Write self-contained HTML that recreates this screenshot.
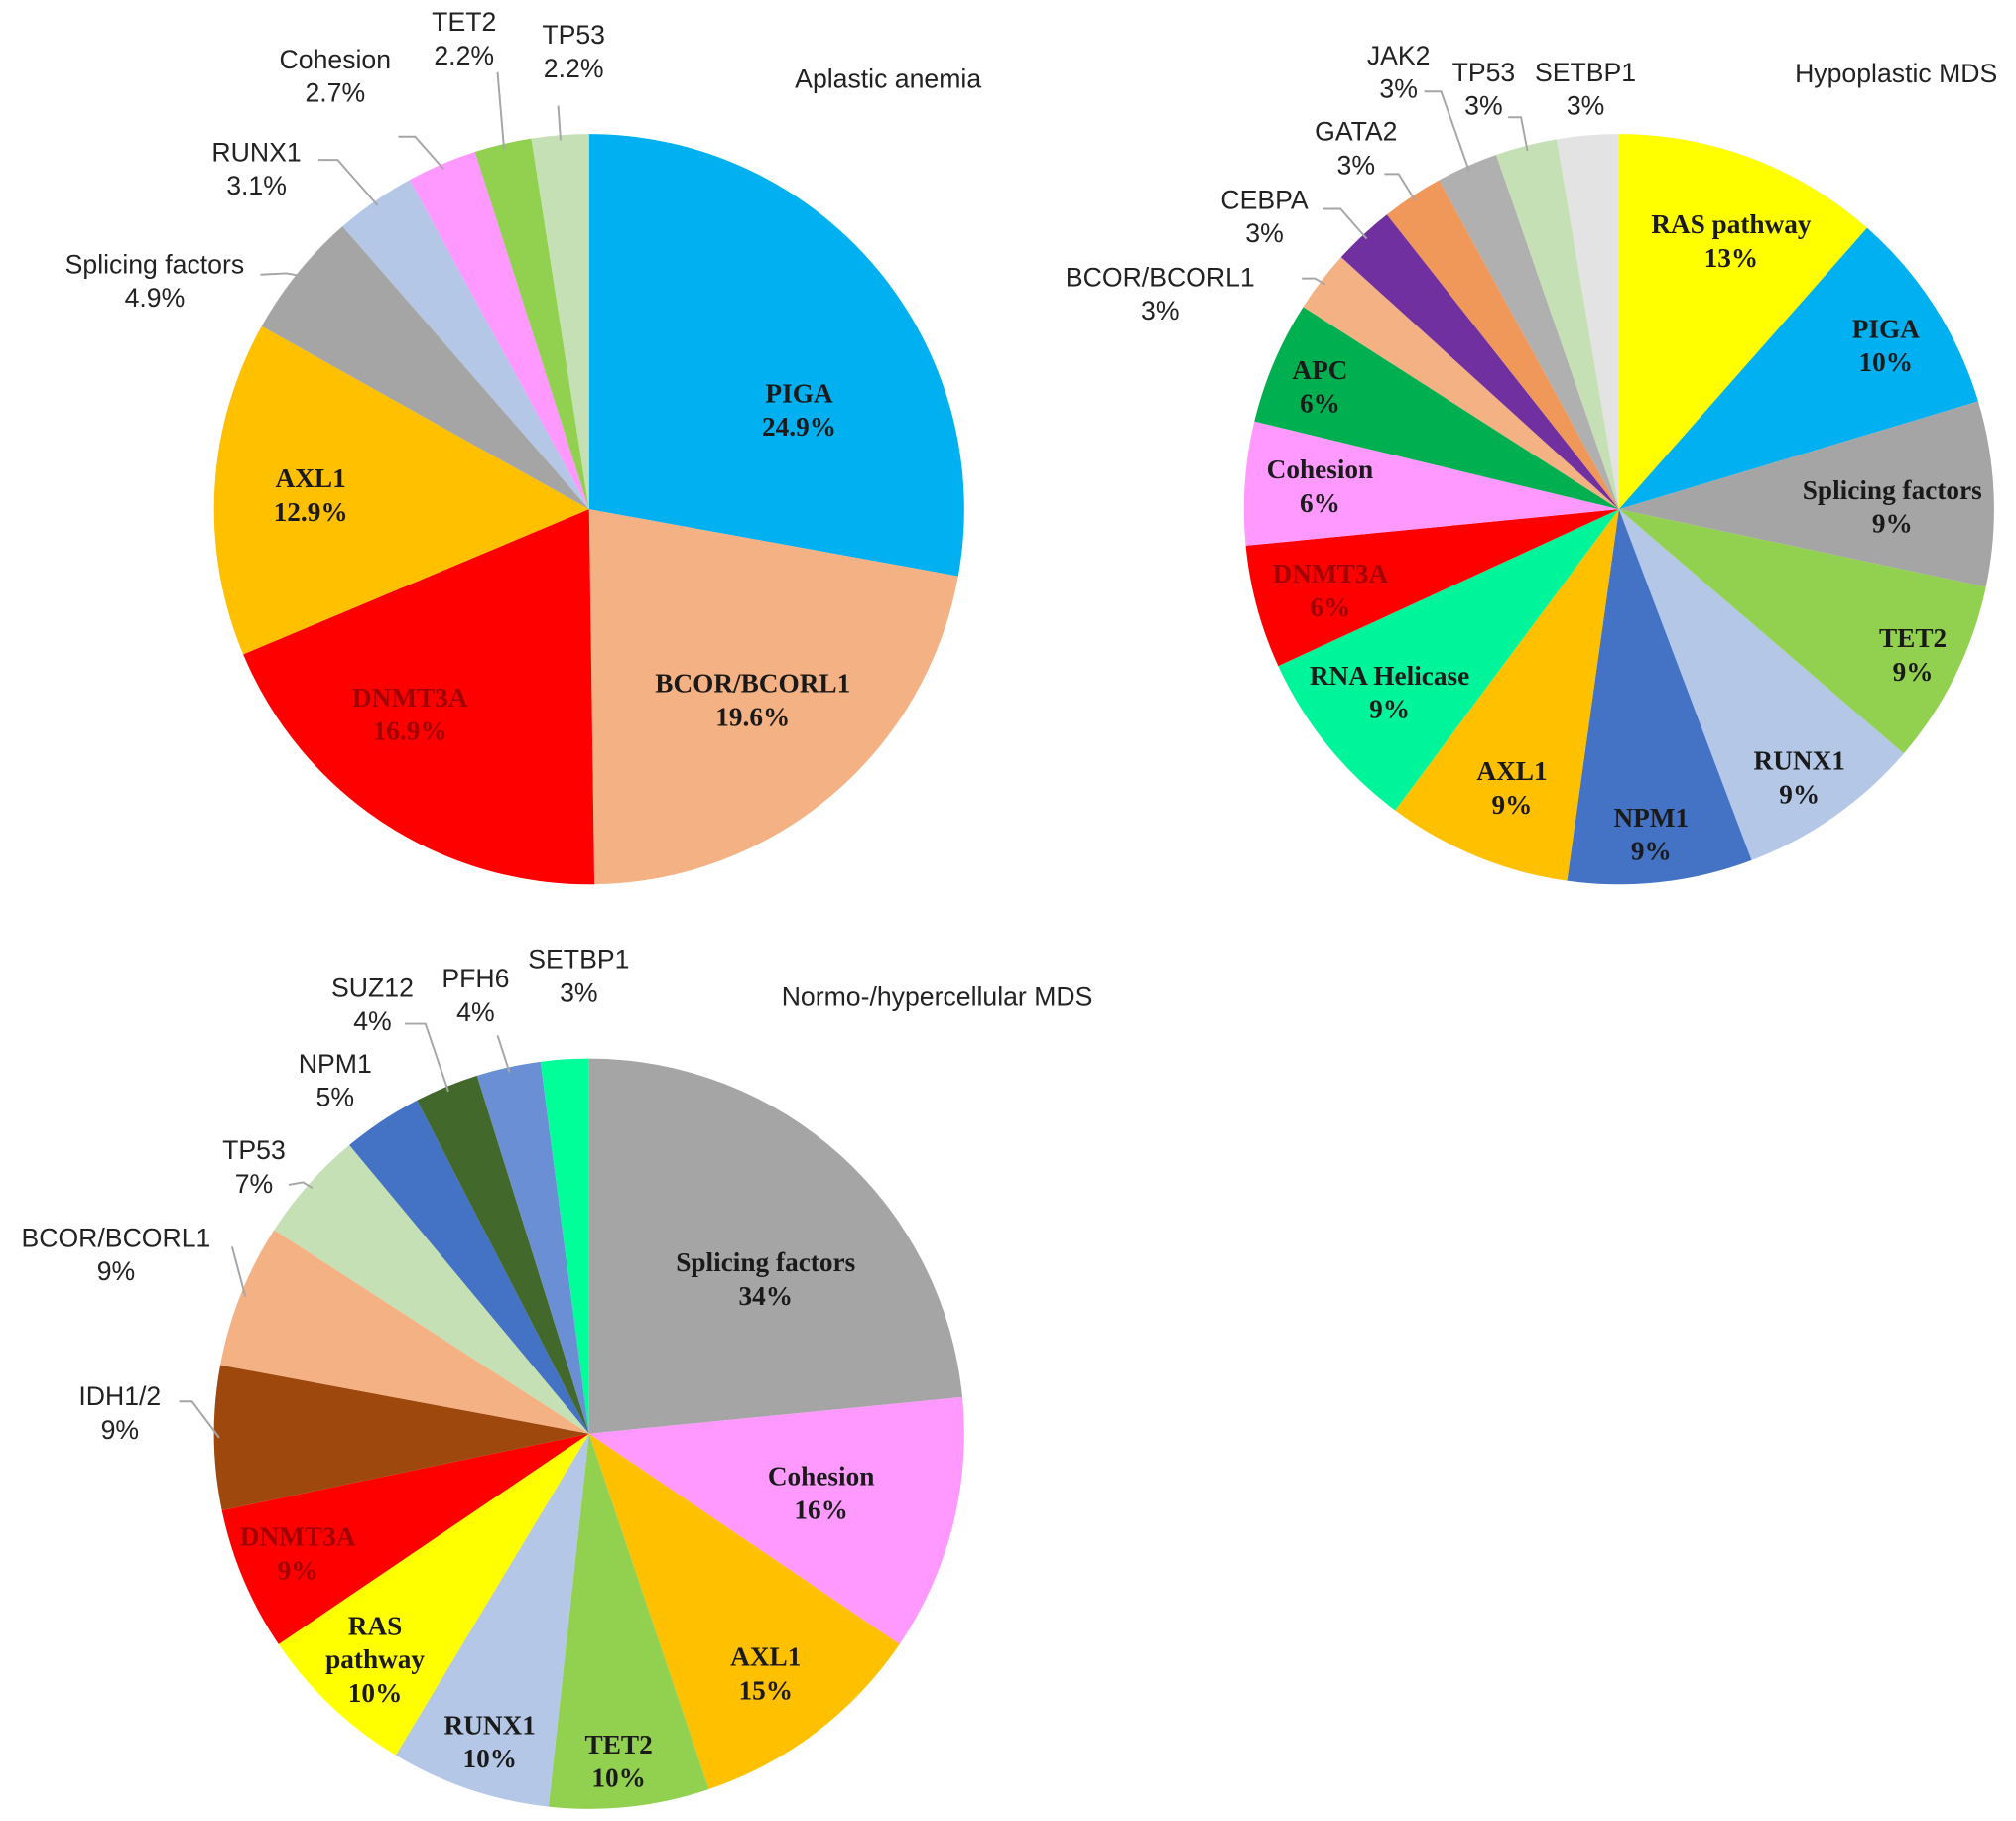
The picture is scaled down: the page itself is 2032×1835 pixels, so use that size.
<!DOCTYPE html>
<html><head><meta charset="utf-8"><style>
html,body{margin:0;padding:0;background:#fff;}
svg{display:block}
.in{font-family:"Liberation Serif",serif;font-weight:bold;font-size:21px;text-anchor:middle}
.out{font-family:"Liberation Sans",sans-serif;font-size:20.5px;text-anchor:middle;fill:#222}
.ttl{font-family:"Liberation Sans",sans-serif;font-size:20.5px;text-anchor:middle;fill:#222}
</style></head><body>
<svg id="chart" width="2032" height="1835" viewBox="0 0 1564 1412.4" preserveAspectRatio="none" xmlns="http://www.w3.org/2000/svg">
<text class="ttl" x="689" y="68">Aplastic anemia</text>
<text class="ttl" x="1471" y="64">Hypoplastic MDS</text>
<text class="ttl" x="727" y="780">Normo-/hypercellular MDS</text>
</svg>
<script>
// Pie 1: Aplastic anemia
const cats1 = ["PIGA","BCOR/BCORL1","DNMT3A","AXL1","Splicing factors","RUNX1","Cohesion","TET2","TP53"];
const vals1 = [24.9,19.6,16.9,12.9,4.9,3.1,2.7,2.2,2.2];
const labels1 = ["24.9%","19.6%","16.9%","12.9%","4.9%","3.1%","2.7%","2.2%","2.2%"];
const colors1 = ["#00B0F0","#F4B183","#FF0000","#FFC000","#A5A5A5","#B4C7E7","#FF99FF","#92D050","#C5E0B4"];
// Pie 2: Hypoplastic MDS
const cats2 = ["RAS pathway","PIGA","Splicing factors","TET2","RUNX1","NPM1","AXL1","RNA Helicase","DNMT3A","Cohesion","APC","BCOR/BCORL1","CEBPA","GATA2","JAK2","TP53","SETBP1"];
const vals2 = [13,10,9,9,9,9,9,9,6,6,6,3,3,3,3,3,3];
const labels2 = ["13%","10%","9%","9%","9%","9%","9%","9%","6%","6%","6%","3%","3%","3%","3%","3%","3%"];
const colors2 = ["#FFFF00","#00B0F0","#A5A5A5","#92D050","#B4C7E7","#4472C4","#FFC000","#00F59A","#FF0000","#FF99FF","#00B050","#F4B183","#7030A0","#F0975A","#B0B0B0","#C5E0B4","#E3E3E3"];
// Pie 3: Normo-/hypercellular MDS
const cats3 = ["Splicing factors","Cohesion","AXL1","TET2","RUNX1","RAS pathway","DNMT3A","IDH1/2","BCOR/BCORL1","TP53","NPM1","SUZ12","PFH6","SETBP1"];
const vals3 = [34,16,15,10,10,10,9,9,9,7,5,4,4,3];
const labels3 = ["34%","16%","15%","10%","10%","10%","9%","9%","9%","7%","5%","4%","4%","3%"];
const colors3 = ["#A5A5A5","#FF99FF","#FFC000","#92D050","#B4C7E7","#FFFF00","#FF0000","#9E480E","#F4B183","#C5E0B4","#4472C4","#43682B","#6A8FD4","#00FF99"];

const svg = document.getElementById('chart');
const NS = "http://www.w3.org/2000/svg";
function mk(tag, attrs){const e=document.createElementNS(NS,tag);for(const k in attrs)e.setAttribute(k,attrs[k]);return e;}
function slug(s){return s.toLowerCase().replace(/[^a-z0-9]+/g,'-').replace(/^-|-$/g,'');}

// layout: outside label text position + leader polyline points (label side first); line ends at slice edge
const outside1 = {4:{t:[120,212],p:[[202,213],[222,212]]},5:{t:[199,125],p:[[247,124],[262,124]]},6:{t:[260,53],p:[[309,106],[322,106]]},7:{t:[360,24],p:[[386,56]]},8:{t:[445,34],p:[[433,82]]}};
const outside2 = {11:{t:[900,222],p:[[1010,216],[1020,216]]},12:{t:[981,162],p:[[1026,162],[1040,162]]},13:{t:[1052,109],p:[[1074,135],[1085,135]]},14:{t:[1085,50],p:[[1105,71],[1118,71]]},15:{t:[1151,63],p:[[1170,91],[1180,91]]},16:{t:[1230,63],p:null}};
const outside3 = {7:{t:[93,1090],p:[[139,1087],[149,1087]]},8:{t:[90,967],p:[[180,967]]},9:{t:[197,899],p:[[224,919],[235,917]]},10:{t:[260,832],p:null},11:{t:[289,773],p:[[314,794],[330,794]]},12:{t:[369,766],p:[[386,803]]},13:{t:[449,751],p:null}};
// layout: inner label centres
const inner1 = {0:[620,318],1:[584,543],2:[318,554],3:[241,384]};
const inner2 = {0:[1343,187],1:[1463,268],2:[1468,393],3:[1484,508],4:[1396,603],5:[1281,647],6:[1173,611],7:[1078,537],8:[1032,458],9:[1024,377],10:[1024,300]};
const inner3 = {0:[594,992],1:[637,1158],2:[594,1298],3:[480,1366],4:[380,1351],5:[291,1287],6:[231,1205]};
const inColor = {"DNMT3A":"#A00000"};

function drawPie(id, cats, vals, labels, colors, cx, cy, r, inner, outside){
  const g = mk('g',{});
  
  
  svg.appendChild(g);
  const total = vals.reduce((a,b)=>a+b,0);
  let a0 = 0;
  for(let i=0;i<vals.length;i++){
    const a1 = a0 + vals[i]/total*2*Math.PI;
    const p = (a)=>[cx+r*Math.sin(a), cy-r*Math.cos(a)];
    const [x0,y0]=p(a0),[x1,y1]=p(a1);
    const large = (a1-a0)>Math.PI?1:0;
    const path = mk('path',{d:`M${cx},${cy}L${x0},${y0}A${r},${r} 0 ${large} 1 ${x1},${y1}Z`,fill:colors[i]});
    
    
    g.appendChild(path);
    const am = (a0+a1)/2;
    if(outside[i]){
      const o = outside[i];
      const [tx,ty] = o.t;
      if(o.p){
        const ex = cx+(r-4)*Math.sin(am), ey = cy-(r-4)*Math.cos(am);
        const pts = o.p.map(q=>q.join(',')).join(' ')+` ${ex},${ey}`;
        const ln = mk('polyline',{points:pts,fill:'none',stroke:'#A6A6A6','stroke-width':1.5});
        
        
        g.appendChild(ln);
      }
      const t = mk('text',{class:'out',x:tx,y:ty});
      
      
      t.textContent = cats[i];
      g.appendChild(t);
      const t2 = mk('text',{class:'out',x:tx,y:ty+26});
      
      
      t2.textContent = labels[i];
      g.appendChild(t2);
    } else {
      let lx, ly;
      if(inner[i]){ [lx,ly] = inner[i]; }
      else { lx = cx+r*0.65*Math.sin(am); ly = cy-r*0.65*Math.cos(am); }
      const words = cats[i]==="RAS pathway" && id==="normo-pie" ? ["RAS","pathway"] : [cats[i]];
      const lines = words.concat([labels[i]]);
      const startY = ly - (lines.length-1)*13 + 7;
      lines.forEach((w,k)=>{
        const t = mk('text',{class:'in',x:lx,y:startY+k*26,fill:inColor[cats[i]]||'#1a1a1a'});
        
        
        t.textContent = w;
        g.appendChild(t);
      });
    }
    a0 = a1;
  }
}
drawPie('aplastic-pie', cats1, vals1, labels1, colors1, 457, 395, 291, inner1, outside1);
drawPie('hypoplastic-pie', cats2, vals2, labels2, colors2, 1256, 395, 291, inner2, outside2);
drawPie('normo-pie', cats3, vals3, labels3, colors3, 457, 1112, 291, inner3, outside3);
</script>
</body></html>
